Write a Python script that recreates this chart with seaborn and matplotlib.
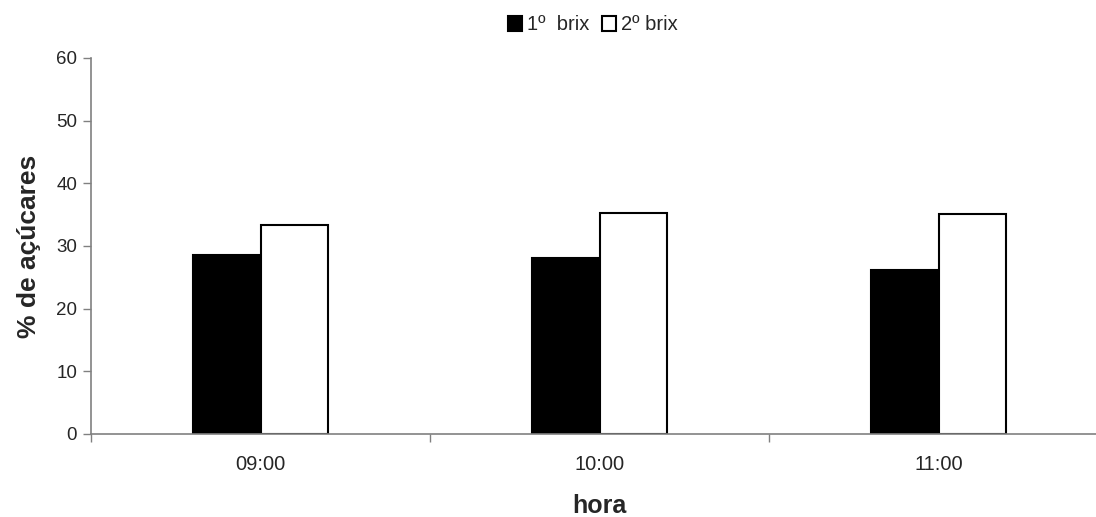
import matplotlib
matplotlib.use("Agg")
import matplotlib.pyplot as plt
import seaborn as sns
import pandas as pd
from matplotlib.ticker import FixedLocator, NullFormatter

horas = ["09:00", "10:00", "11:00"]
series_names = ["1º  brix", "2º brix"]
brix1 = [28.5, 28.1, 26.2]
brix2 = [33.3, 35.2, 35.1]
y_ticks = [0, 10, 20, 30, 40, 50, 60]

df = pd.DataFrame({
    "hora": horas * 2,
    "valor": brix1 + brix2,
    "serie": [series_names[0]] * 3 + [series_names[1]] * 3,
})

sns.set_style("white")
plt.rcParams["font.family"] = ["Liberation Sans", "DejaVu Sans"]

fig = plt.figure(figsize=(10.96, 5.17), dpi=100)
ax = fig.add_axes([91 / 1096, 83 / 517, (1108 - 91) / 1096, 376 / 517])

sns.barplot(data=df, x="hora", y="valor", hue="serie", order=horas,
            hue_order=series_names, palette=["black", "white"],
            width=0.4, edgecolor="black", linewidth=1.5, ax=ax, legend=True)

ax.set_xlim(-0.5, 2.5)
ax.set_ylim(0, 60)
ax.set_yticks(y_ticks)
ax.tick_params(axis="y", labelsize=13.5, length=6, width=1, color="#808080",
               direction="out", left=True, pad=4)

# category labels at centers, tick marks at boundaries
ax.xaxis.set_major_locator(FixedLocator([-0.5, 0.5, 1.5, 2.5]))
ax.xaxis.set_major_formatter(NullFormatter())
ax.xaxis.set_minor_locator(FixedLocator([0, 1, 2]))
ax.set_xticklabels(horas, minor=True)
ax.tick_params(axis="x", which="major", length=6, width=1, color="#808080",
               direction="out", bottom=True)
ax.tick_params(axis="x", which="minor", length=0, labelsize=14.5, pad=15)

for s in ["top", "right"]:
    ax.spines[s].set_visible(False)
for s in ["left", "bottom"]:
    ax.spines[s].set_color("#808080")
    ax.spines[s].set_linewidth(1.2)

ax.set_xlabel("hora", fontsize=18, fontweight="bold")
ax.xaxis.set_label_coords((599 - 91) / (1108 - 91), (517 - 494 - 83) / 376)
ax.set_ylabel("% de açúcares", fontsize=19, fontweight="bold")
ax.yaxis.set_label_coords((41 - 91) / (1108 - 91), 0.5)

leg = ax.legend(loc="center", bbox_to_anchor=(593 / 1096, 1 - 25 / 517),
                bbox_transform=fig.transFigure, ncol=2, frameon=False,
                fontsize=14.5, handlelength=0.7, handleheight=0.7,
                handletextpad=0.25, columnspacing=0.6, borderpad=0)

fig.savefig("out.png", dpi=100)
